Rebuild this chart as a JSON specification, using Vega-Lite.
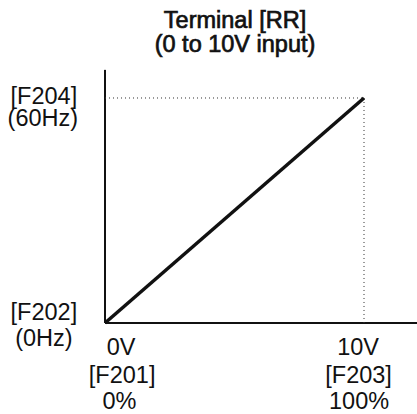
{
  "$schema": "https://vega.github.io/schema/vega-lite/v6.json",
  "width": 417,
  "height": 414,
  "autosize": {"type": "none"},
  "padding": 0,
  "background": "white",
  "config": {"view": {"stroke": null}},
  "datasets": {
    "axes": [
      {"x": 0, "y": 0, "x2": 0, "y2": 67.5},
      {"x": 0, "y": 0, "x2": 12.1, "y2": 0}
    ],
    "guides": [
      {"x": 0, "y": 60, "x2": 10, "y2": 60},
      {"x": 10, "y": 60, "x2": 10, "y2": 0}
    ],
    "curve": [
      {"volt": 0, "hz": 0},
      {"volt": 10, "hz": 60}
    ],
    "titles": [
      {"t": "Terminal [RR]", "x": 5.02, "y": 80.4},
      {"t": "(0 to 10V input)", "x": 5.02, "y": 74.1}
    ],
    "labels": [
      {"t": "[F204]", "x": -2.36, "y": 60.3},
      {"t": "(60Hz)", "x": -2.40, "y": 54.5},
      {"t": "[F202]", "x": -2.36, "y": 2.7},
      {"t": "(0Hz)", "x": -2.36, "y": -4.3},
      {"t": "0V", "x": 0.62, "y": -6.7},
      {"t": "[F201]", "x": 0.66, "y": -14.1},
      {"t": "0%", "x": 0.56, "y": -21.1},
      {"t": "10V", "x": 9.77, "y": -6.7},
      {"t": "[F203]", "x": 9.79, "y": -14.1},
      {"t": "100%", "x": 9.81, "y": -21.1}
    ]
  },
  "layer": [
    {
      "data": {"name": "axes"},
      "mark": {"type": "rule", "color": "#111", "strokeWidth": 2},
      "encoding": {
        "x": {"field": "x", "type": "quantitative", "scale": {"domain": [-4.054, 12.046], "nice": false, "zero": false}, "axis": null},
        "y": {"field": "y", "type": "quantitative", "scale": {"domain": [-24.27, 86.13], "nice": false, "zero": false}, "axis": null},
        "x2": {"field": "x2"},
        "y2": {"field": "y2"}
      }
    },
    {
      "data": {"name": "guides"},
      "mark": {"type": "rule", "color": "#333", "strokeWidth": 1, "strokeDash": [1, 3]},
      "encoding": {
        "x": {"field": "x", "type": "quantitative"},
        "y": {"field": "y", "type": "quantitative"},
        "x2": {"field": "x2"},
        "y2": {"field": "y2"}
      }
    },
    {
      "data": {"name": "curve"},
      "mark": {"type": "line", "color": "#111", "strokeWidth": 3.5},
      "encoding": {
        "x": {"field": "volt", "type": "quantitative"},
        "y": {"field": "hz", "type": "quantitative"}
      }
    },
    {
      "data": {"name": "titles"},
      "mark": {"type": "text", "font": "Liberation Sans", "fontSize": 23.5, "color": "#111", "stroke": "#111", "strokeWidth": 0.7, "baseline": "middle", "align": "center"},
      "encoding": {
        "x": {"field": "x", "type": "quantitative"},
        "y": {"field": "y", "type": "quantitative"},
        "text": {"field": "t"}
      }
    },
    {
      "data": {"name": "labels"},
      "mark": {"type": "text", "font": "Liberation Sans", "fontSize": 23.5, "color": "#111", "baseline": "middle", "align": "center"},
      "encoding": {
        "x": {"field": "x", "type": "quantitative"},
        "y": {"field": "y", "type": "quantitative"},
        "text": {"field": "t"}
      }
    }
  ]
}
